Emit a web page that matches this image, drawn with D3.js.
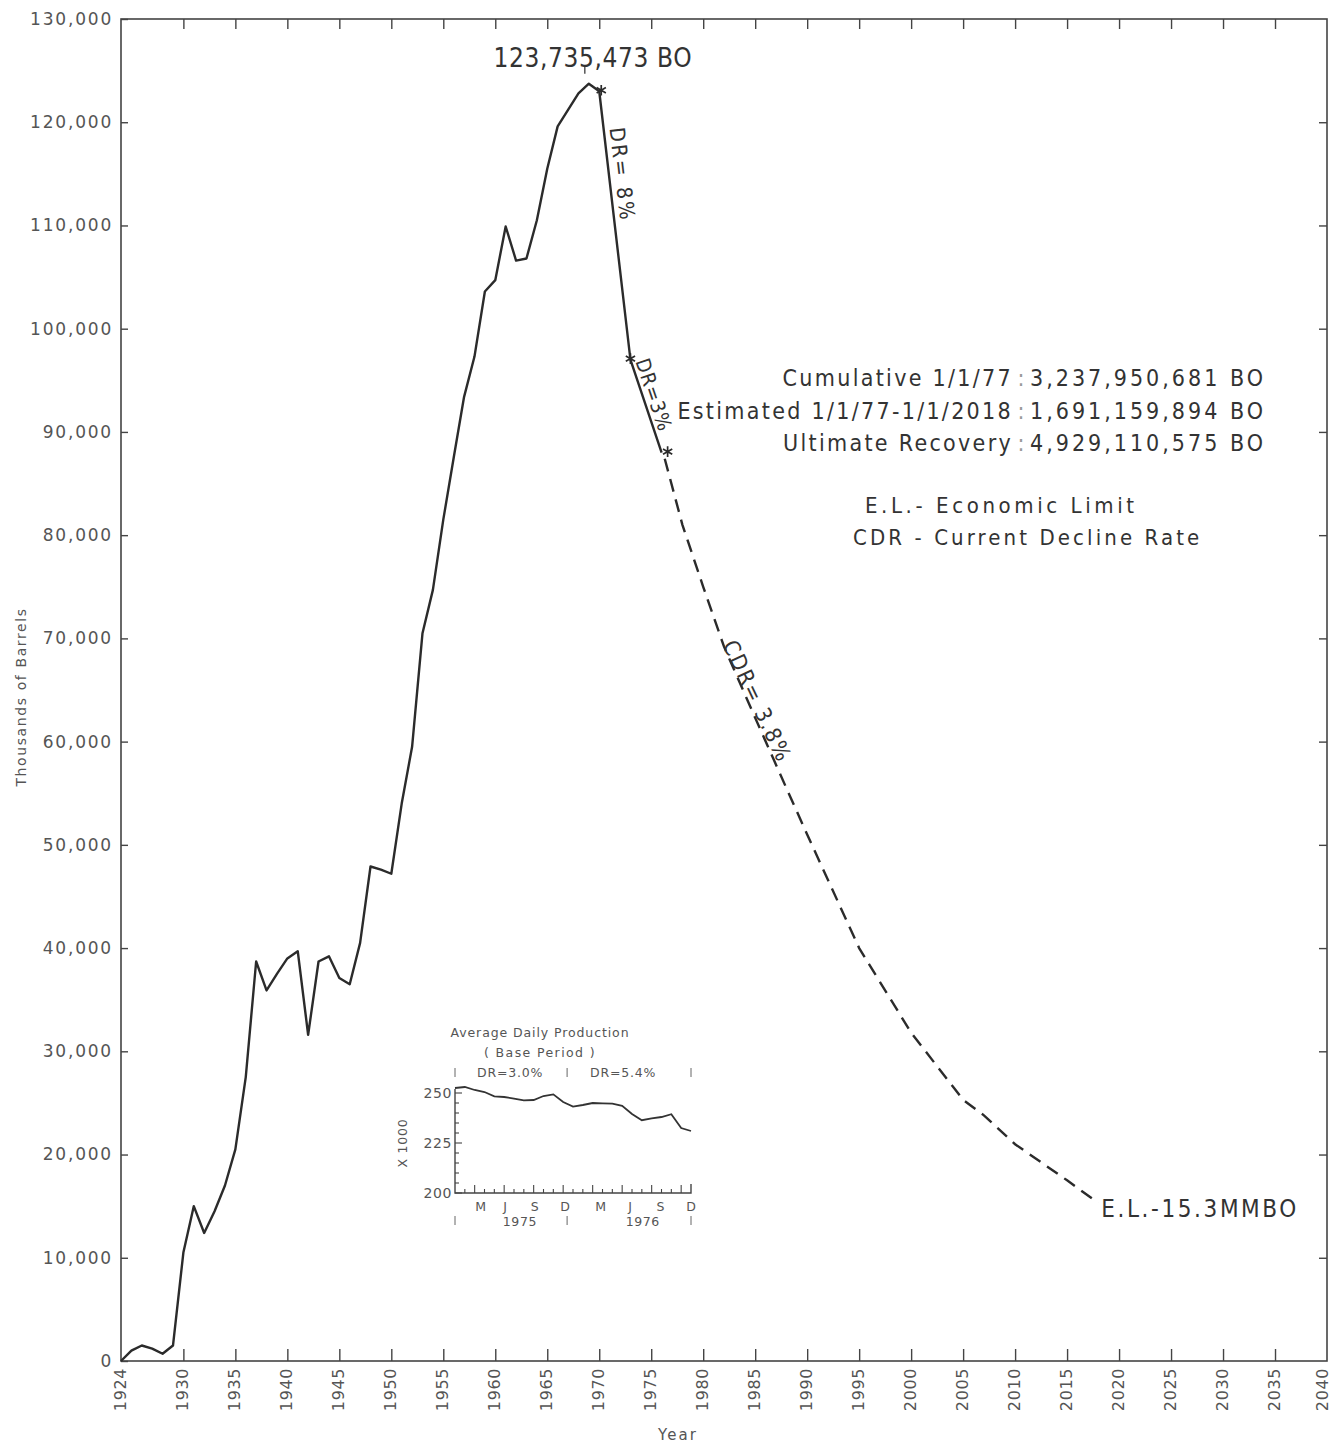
<!DOCTYPE html>
<html>
<head>
<meta charset="utf-8">
<script src="https://cdn.jsdelivr.net/npm/d3@7"></script>
<style>
    body {margin: 0; background: #fff;}
    svg {display: block;}
</style>
</head>
<body>
<svg width="1335" height="1445"></svg>
<script>
// historical production, thousands of barrels per year
const histYears = [1924, 1925, 1926, 1927, 1928, 1929, 1930, 1931, 1932, 1933, 1934, 1935, 1936, 1937, 1938, 1939,
    1940, 1941, 1942, 1943, 1944, 1945, 1946, 1947, 1948, 1949, 1950, 1951, 1952, 1953, 1954, 1955, 1956, 1957,
    1958, 1959, 1960, 1961, 1962, 1963, 1964, 1965, 1966, 1967, 1968, 1969, 1970, 1973, 1976];
const histValues = [0, 1000, 1500, 1200, 700, 1500, 10500, 15000, 12400, 14500, 17000, 20500, 27500, 38700, 35900, 37500,
    39000, 39700, 31600, 38700, 39200, 37100, 36500, 40500, 47900, 47600, 47200, 54000, 59500, 70500, 74700, 81500,
    87500, 93400, 97300, 103600, 104700, 109900, 106600, 106800, 110500, 115500, 119600, 121200, 122800, 123735,
    123000, 97000, 88000];

// projected decline to economic limit
const forecastYears = [1976, 1978, 1980, 1982, 1985, 1988, 1990, 1995, 2000, 2005, 2007, 2010, 2015, 2018];
const forecastValues = [88000, 81000, 75000, 69200, 62300, 55500, 51000, 40000, 31800, 25300, 23800, 21000, 17500, 15300];

// decline-rate break points (stars)
const starYears = [1970, 1973, 1976];

const yTicks = d3.range(0, 130001, 10000);
const xTicks = [1924, 1930, 1935, 1940, 1945, 1950, 1955, 1960, 1965, 1970, 1975, 1980, 1985, 1990, 1995, 2000,
    2005, 2010, 2015, 2020, 2025, 2030, 2035, 2040];

// inset: average daily production (x1000 BOPD), monthly Jan 1975 .. Dec 1976
const insetMonths = d3.range(0, 25);
const insetValues = [252.5, 253, 251.5, 250.5, 248.3, 248, 247.2, 246.3, 246.5, 248.5, 249.3, 245.5, 243.2, 244,
    245, 244.8, 244.7, 243.6, 239.5, 236.4, 237.3, 238, 239.4, 232.5, 231];
const insetYTicks = [200, 225, 250];
const insetMonthLetters = ["M", "J", "S", "D", "M", "J", "S", "D"];
const insetMonthPos = [2.6, 5.1, 8.1, 11.2, 14.8, 17.8, 20.9, 24];
const insetYearLabels = ["1975", "1976"];
const insetYearPos = [6.6, 19.1];
const insetPeriodLabels = ["DR=3.0%", "DR=5.4%"];
const insetPeriodPos = [5.6, 17.1];
const insetBreaks = [0, 11.4, 24];

// summary text
const summaryLabels = ["Cumulative 1/1/77", "Estimated 1/1/77-1/1/2018", "Ultimate Recovery"];
const summaryValues = ["3,237,950,681 BO", "1,691,159,894 BO", "4,929,110,575 BO"];
const legendLines = ["E.L.- Economic Limit", "CDR - Current Decline Rate"];

const ink = "#2b2b2b";
const gray = "#555";
const condensed = "'DejaVu Sans Condensed', 'DejaVu Sans', sans-serif";
const plain = "'DejaVu Sans', sans-serif";

let svg = d3.select("svg");

let x = d3.scaleLinear().domain([1924, 2040]).range([121, 1327]);
let y = d3.scaleLinear().domain([0, 130000]).range([1361, 19]);

// plot frame
svg.append("rect")
    .attr("x", x(1924)).attr("y", y(130000))
    .attr("width", x(2040) - x(1924)).attr("height", y(0) - y(130000))
    .attr("fill", "none").attr("stroke", "#444").attr("stroke-width", 1.6);

// left axis
let yAxis = svg.append("g")
    .attr("transform", "translate(" + x(1924) + ",0)")
    .call(d3.axisLeft(y).tickValues(yTicks).tickSize(-7).tickPadding(8).tickFormat(d3.format(",")));
yAxis.select(".domain").remove();
yAxis.selectAll("line").attr("stroke", "#444").attr("stroke-width", 1.4);
yAxis.selectAll("text")
    .attr("fill", gray)
    .style("font-family", plain).style("font-size", "17px").style("letter-spacing", "1.8px");

// right axis ticks
let yAxisR = svg.append("g")
    .attr("transform", "translate(" + x(2040) + ",0)")
    .call(d3.axisRight(y).tickValues(yTicks.slice(1, -1)).tickSize(-8).tickFormat(""));
yAxisR.select(".domain").remove();
yAxisR.selectAll("line").attr("stroke", "#444").attr("stroke-width", 1.4);

// top axis ticks
let xAxisT = svg.append("g")
    .attr("transform", "translate(0," + y(130000) + ")")
    .call(d3.axisTop(x).tickValues(xTicks.slice(1, -1)).tickSize(-10).tickFormat(""));
xAxisT.select(".domain").remove();
xAxisT.selectAll("line").attr("stroke", "#444").attr("stroke-width", 1.4);

// bottom axis with rotated year labels
let xAxis = svg.append("g")
    .attr("transform", "translate(0," + y(0) + ")")
    .call(d3.axisBottom(x).tickValues(xTicks).tickSize(-12).tickFormat(d3.format("d")));
xAxis.select(".domain").remove();
xAxis.selectAll("line").attr("stroke", "#444").attr("stroke-width", 1.4)
    .filter(d => d === 1924 || d === 2040).remove();
xAxis.selectAll("text")
    .attr("transform", "rotate(-90)")
    .attr("x", -7).attr("y", 0).attr("dy", d => d === 2040 ? "0.05em" : "0.25em")
    .style("text-anchor", "end")
    .attr("fill", gray)
    .style("font-family", plain).style("font-size", "16px").style("letter-spacing", "0.6px");

// axis titles
svg.append("text")
    .attr("x", 678).attr("y", 1440)
    .attr("text-anchor", "middle").attr("fill", gray)
    .style("font-family", plain).style("font-size", "15px").style("letter-spacing", "2px")
    .text("Year");
svg.append("text")
    .attr("transform", "translate(26,697) rotate(-90)")
    .attr("text-anchor", "middle").attr("fill", gray)
    .style("font-family", plain).style("font-size", "14px").style("letter-spacing", "1.6px")
    .text("Thousands of Barrels");

// production curves
let line = d3.line().x(d => x(d[0])).y(d => y(d[1]));
svg.append("path")
    .datum(d3.zip(histYears, histValues))
    .attr("d", line)
    .attr("fill", "none").attr("stroke", ink).attr("stroke-width", 2.4).attr("stroke-linejoin", "round");
svg.append("path")
    .datum(d3.zip(forecastYears, forecastValues).map((d, i) => i === 0 ? [d[0] + 0.3, d[1] - 600] : d))
    .attr("d", line)
    .attr("fill", "none").attr("stroke", ink).attr("stroke-width", 2.4)
    .attr("stroke-dasharray", "13,8");

// stars at decline breaks
let starOffsets = [2, 0, 6];
svg.selectAll(".star")
    .data(starYears)
    .enter()
    .append("path")
    .attr("class", "star")
    .attr("transform", (d, i) => "translate(" + (x(d) + starOffsets[i]) + "," + (y(histValues[histYears.indexOf(d)]) - 1) + ")")
    .attr("d", d3.symbol().type(d3.symbolAsterisk).size(80))
    .attr("fill", "none").attr("stroke", ink).attr("stroke-width", 1.7);

// peak label
let peakIdx = histValues.indexOf(d3.max(histValues));
let peakX = x(histYears[peakIdx]) - 4;
svg.append("line")
    .attr("x1", peakX).attr("x2", peakX)
    .attr("y1", y(histValues[peakIdx]) - 18).attr("y2", y(histValues[peakIdx]) - 10)
    .attr("stroke", ink).attr("stroke-width", 1.2);
svg.append("text")
    .attr("x", peakX + 8).attr("y", 67)
    .attr("text-anchor", "middle").attr("fill", "#333")
    .style("font-family", condensed).style("font-size", "26px").style("letter-spacing", "0.6px")
    .text("123,735,473 BO");

// rotated decline annotations placed along the curve
function alongLabel(y0, v0, y1, v1, t, off, str, size, spacing) {
    let ax = x(y0), ay = y(v0), bx = x(y1), by = y(v1);
    let ang = Math.atan2(by - ay, bx - ax);
    let px = ax + (bx - ax) * t + Math.sin(ang) * off;
    let py = ay + (by - ay) * t - Math.cos(ang) * off;
    svg.append("text")
        .attr("transform", "translate(" + px + "," + py + ") rotate(" + (ang * 180 / Math.PI) + ")")
        .attr("fill", "#333")
        .style("font-family", condensed).style("font-size", size + "px").style("letter-spacing", spacing + "px")
        .text(str);
}
alongLabel(1970, 123000, 1973, 97000, 0.14, 6, "DR= 8%", 21, 2.6);
alongLabel(1973, 97000, 1976, 88000, 0.03, 4, "DR=3%", 20, 1.2);
alongLabel(1981.7, 69000, 1988, 55500, -0.02, 3, "CDR= 3.8%", 22, 1.8);

// economic limit label
let elYear = forecastYears[forecastYears.length - 1];
let elVal = forecastValues[forecastValues.length - 1];
svg.append("text")
    .attr("x", x(elYear) + 3).attr("y", y(elVal) + 14)
    .attr("fill", "#333")
    .style("font-family", condensed).style("font-size", "24px").style("letter-spacing", "2.6px")
    .text("E.L.-15.3MMBO");

// summary block
let summary = svg.append("g").attr("fill", "#333")
    .style("font-family", condensed).style("font-size", "23px");
summaryLabels.forEach((s, i) => {
    let by = 386 + i * 32.5;
    summary.append("text").attr("x", 1013).attr("y", by).attr("text-anchor", "end")
        .style("letter-spacing", "2.3px").text(s);
    summary.append("text").attr("x", 1021).attr("y", by).attr("text-anchor", "middle")
        .attr("fill", "#999").text(":");
    summary.append("text").attr("x", 1030).attr("y", by)
        .style("letter-spacing", "3px").text(summaryValues[i]);
});
let legend = svg.append("g").attr("fill", "#333")
    .style("font-family", condensed).style("font-size", "22px");
legend.append("text").attr("x", 865).attr("y", 513).style("letter-spacing", "3.6px").text(legendLines[0]);
legend.append("text").attr("x", 853).attr("y", 545).style("letter-spacing", "3.1px").text(legendLines[1]);

// ---------------- inset chart ----------------
let ix = d3.scaleLinear().domain([0, 24]).range([455, 691]);
let iy = d3.scaleLinear().domain([200, 250]).range([1193, 1093]);
let inset = svg.append("g");

inset.append("path")
    .attr("d", "M" + ix(0) + "," + (iy(250) - 4) + "V" + iy(200) + "H" + ix(24) + "V" + (iy(200) - 9))
    .attr("fill", "none").attr("stroke", "#444").attr("stroke-width", 1.4);

// inset y ticks every 5 units
inset.selectAll(".iyt")
    .data(d3.range(200, 251, 5))
    .enter()
    .append("line")
    .attr("x1", ix(0)).attr("x2", d => ix(0) + (d % 25 === 0 ? 7 : 4))
    .attr("y1", d => iy(d)).attr("y2", d => iy(d))
    .attr("stroke", "#444").attr("stroke-width", 1.1);
inset.selectAll(".iyl")
    .data(insetYTicks)
    .enter()
    .append("text")
    .attr("x", ix(0) - 3).attr("y", d => iy(d)).attr("dy", "0.36em")
    .attr("text-anchor", "end").attr("fill", gray)
    .style("font-family", plain).style("font-size", "14px").style("letter-spacing", "0.6px")
    .text(d => d);

// inset x ticks, monthly
inset.selectAll(".ixt")
    .data(d3.range(1, 24))
    .enter()
    .append("line")
    .attr("x1", d => ix(d)).attr("x2", d => ix(d))
    .attr("y1", iy(200)).attr("y2", d => iy(200) - (d % 3 === 2 ? 8 : 4))
    .attr("stroke", "#444").attr("stroke-width", 1.1);

inset.append("path")
    .datum(d3.zip(insetMonths, insetValues))
    .attr("d", d3.line().x(d => ix(d[0])).y(d => iy(d[1])))
    .attr("fill", "none").attr("stroke", "#333").attr("stroke-width", 1.8);

let insetText = inset.append("g").attr("fill", gray)
    .style("font-family", plain).style("font-size", "12.5px");
insetText.append("text").attr("x", 540).attr("y", 1037).attr("text-anchor", "middle")
    .style("letter-spacing", "0.9px").text("Average Daily Production");
insetText.append("text").attr("x", 540).attr("y", 1057).attr("text-anchor", "middle")
    .style("letter-spacing", "1.4px").text("( Base  Period )");
insetPeriodLabels.forEach((s, i) => {
    insetText.append("text").attr("x", ix(insetPeriodPos[i])).attr("y", 1077).attr("text-anchor", "middle")
        .style("letter-spacing", "0.8px").text(s);
});
insetMonthLetters.forEach((s, i) => {
    insetText.append("text").attr("x", ix(insetMonthPos[i])).attr("y", 1211).attr("text-anchor", "middle").text(s);
});
insetYearLabels.forEach((s, i) => {
    insetText.append("text").attr("x", ix(insetYearPos[i])).attr("y", 1226).attr("text-anchor", "middle")
        .style("letter-spacing", "0.6px").text(s);
});
// period break marks
insetBreaks.forEach(m => {
    inset.append("line").attr("x1", ix(m)).attr("x2", ix(m)).attr("y1", 1068).attr("y2", 1077)
        .attr("stroke", "#666").attr("stroke-width", 1);
    inset.append("line").attr("x1", ix(m)).attr("x2", ix(m)).attr("y1", 1216).attr("y2", 1225)
        .attr("stroke", "#666").attr("stroke-width", 1);
});
insetText.append("text")
    .attr("transform", "translate(407,1143) rotate(-90)")
    .attr("text-anchor", "middle").style("letter-spacing", "0.8px")
    .text("X 1000");
</script>
</body>
</html>
